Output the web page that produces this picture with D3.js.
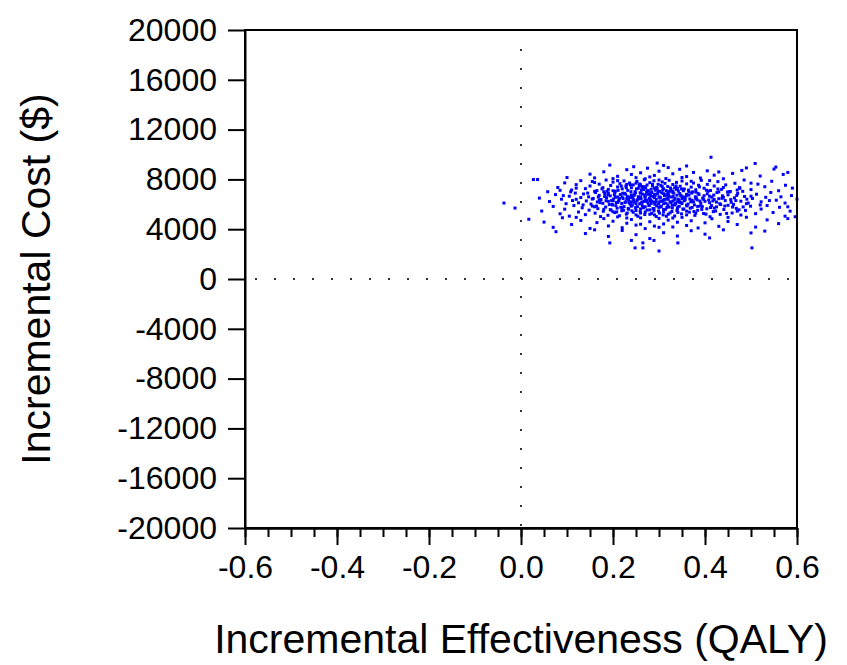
<!DOCTYPE html>
<html>
<head>
<meta charset="utf-8">
<script src="https://cdn.jsdelivr.net/npm/d3@7/dist/d3.min.js"></script>
<style>
body { margin: 0; background: #fff; }
</style>
</head>
<body>
<script>
// plane box in page pixels
const box = {left: 245, top: 30, right: 797, bottom: 528};
const font = "'Liberation Sans', Arial, sans-serif";

const x_ticks = [-0.6, -0.4, -0.2, 0.0, 0.2, 0.4, 0.6];
const y_ticks = [20000, 16000, 12000, 8000, 4000, 0, -4000, -8000, -12000, -16000, -20000];
const x_title = "Incremental Effectiveness (QALY)";
const y_title = "Incremental Cost ($)";

// simulated (effect, cost) pairs, read off the cloud
const sim_points = [
  [0.413,9780],[0.296,9310],[0.193,9150],[0.509,9280],[0.49,8920],[0.554,8990],[0.36,9080],[0.245,9020],[0.31,9120],
  [0.027,7990],[0.036,7990],[0.15,8420],[0.18,8610],[0.21,8250],[0.23,8780],[0.25,8140],[0.26,8530],[0.275,8900],
  [0.29,8320],[0.3,8660],[0.315,8070],[0.33,8450],[0.345,8810],[0.36,8230],[0.375,8560],[0.39,8110],[0.405,8690],
  [0.42,8340],[0.44,8050],[0.46,8480],[0.48,8720],[0.52,8270],[0.55,8830],[0.57,8400],[0.2,8060],[0.28,8200],
  [0.32,8950],[0.24,8400],[0.35,8150],[0.27,8050],[0.43,8600],[0.1,8150],[0.16,8120],[0.58,8560],
  [0.058,7010],[0.08,7350],[0.095,7720],[0.11,7150],[0.12,7580],[0.13,7900],[0.14,7260],[0.15,7470],[0.155,7830],
  [0.165,7100],[0.17,7620],[0.178,7340],[0.185,7950],[0.19,7200],[0.195,7510],[0.2,7780],[0.205,7050],[0.21,7390],
  [0.215,7660],[0.22,7240],[0.224,7880],[0.228,7470],[0.232,7120],[0.236,7710],[0.24,7330],[0.244,7560],[0.248,7020],
  [0.252,7840],[0.255,7280],[0.258,7630],[0.262,7150],[0.265,7420],[0.268,7970],[0.271,7310],[0.274,7550],[0.277,7080],
  [0.28,7740],[0.283,7210],[0.286,7480],[0.289,7890],[0.292,7130],[0.295,7360],[0.298,7610],[0.301,7040],[0.304,7520],
  [0.307,7800],[0.31,7250],[0.313,7680],[0.316,7100],[0.319,7430],[0.322,7930],[0.326,7190],[0.33,7590],[0.334,7320],
  [0.338,7760],[0.342,7060],[0.346,7450],[0.35,7870],[0.355,7230],[0.36,7640],[0.365,7000],[0.37,7380],[0.375,7710],
  [0.38,7170],[0.386,7530],[0.392,7920],[0.398,7290],[0.405,7600],[0.412,7110],[0.42,7470],[0.428,7820],[0.436,7200],
  [0.445,7560],[0.455,7030],[0.465,7690],[0.475,7340],[0.485,7950],[0.5,7180],[0.515,7620],[0.53,7410],[0.545,7850],
  [0.56,7090],[0.575,7530],[0.59,7300],[0.18,7010],[0.26,7560],[0.3,7950],[0.34,7270],[0.23,7600],[0.37,7850],
  [0.27,7400],[0.33,7050],[0.21,7900],[0.29,7300],[0.25,7700],[0.41,7900],[0.44,7350],[0.12,7300],[0.47,7150],
  [0.16,7750],[0.5,7700],[0.085,7120],
  [-0.037,6100],[0.04,6500],[0.062,6220],[0.075,6780],[0.088,6410],[0.098,6050],[0.105,6650],[0.112,6300],[0.118,6900],
  [0.125,6120],[0.13,6540],[0.136,6830],[0.142,6270],[0.147,6600],[0.152,6020],[0.157,6470],[0.162,6950],[0.166,6190],
  [0.17,6720],[0.174,6380],[0.178,6080],[0.182,6860],[0.186,6530],[0.19,6240],[0.194,6680],[0.198,6010],[0.201,6420],
  [0.204,6910],[0.207,6150],[0.21,6590],[0.213,6330],[0.216,6790],[0.219,6070],[0.222,6460],[0.225,6880],[0.228,6210],
  [0.231,6640],[0.234,6370],[0.237,6030],[0.24,6750],[0.243,6500],[0.246,6170],[0.249,6930],[0.252,6290],[0.255,6610],
  [0.258,6040],[0.261,6440],[0.264,6820],[0.267,6230],[0.27,6570],[0.273,6960],[0.276,6110],[0.279,6490],[0.282,6700],
  [0.285,6260],[0.288,6620],[0.291,6000],[0.294,6400],[0.297,6850],[0.3,6180],[0.303,6560],[0.306,6920],[0.309,6310],
  [0.312,6690],[0.315,6090],[0.318,6480],[0.321,6770],[0.324,6200],[0.327,6590],[0.33,6950],[0.333,6340],[0.336,6060],
  [0.339,6730],[0.342,6410],[0.345,6870],[0.348,6140],[0.351,6550],[0.355,6280],[0.359,6660],[0.363,6020],[0.367,6430],
  [0.371,6900],[0.375,6190],[0.379,6610],[0.383,6350],[0.387,6780],[0.391,6080],[0.395,6500],[0.4,6240],[0.405,6840],
  [0.41,6130],[0.415,6570],[0.42,6390],[0.426,6940],[0.432,6050],[0.438,6680],[0.444,6300],[0.45,6760],[0.457,6160],
  [0.464,6520],[0.471,6880],[0.478,6250],[0.486,6630],[0.494,6100],[0.503,6470],[0.512,6810],[0.522,6200],[0.532,6560],
  [0.543,6950],[0.555,6330],[0.574,6100],[0.588,6700],[0.6,6420],[0.2,6300],[0.22,6600],[0.24,6200],[0.26,6900],
  [0.28,6300],[0.3,6600],[0.32,6400],[0.34,6200],[0.36,6800],[0.38,6450],[0.25,6050],[0.27,6750],[0.29,6150],
  [0.31,6850],[0.33,6250],[0.35,6650],[0.23,6450],[0.19,6900],[0.17,6350],[0.41,6650],[0.43,6450],[0.27,6350],
  [0.29,6550],[0.31,6050],[0.26,6600],[0.28,6850],[0.24,6550],[0.32,6700],[0.35,6450],[0.21,6150],
  [-0.013,5700],[0.045,5460],[0.07,5830],[0.085,5240],[0.095,5610],[0.105,5050],[0.115,5900],[0.125,5380],[0.133,5720],
  [0.14,5170],[0.148,5530],[0.155,5860],[0.161,5290],[0.167,5650],[0.173,5010],[0.179,5440],[0.184,5780],[0.189,5120],
  [0.194,5570],[0.199,5940],[0.204,5330],[0.209,5690],[0.214,5080],[0.219,5480],[0.224,5820],[0.229,5210],[0.234,5600],
  [0.239,5950],[0.244,5360],[0.249,5730],[0.254,5040],[0.259,5420],[0.264,5880],[0.269,5180],[0.274,5540],[0.279,5910],
  [0.284,5270],[0.289,5660],[0.294,5020],[0.299,5460],[0.304,5800],[0.309,5150],[0.314,5590],[0.319,5960],[0.324,5310],
  [0.329,5700],[0.334,5060],[0.339,5500],[0.344,5840],[0.349,5230],[0.354,5620],[0.36,5930],[0.366,5370],[0.372,5750],
  [0.378,5110],[0.384,5520],[0.39,5870],[0.397,5260],[0.404,5640],[0.411,5000],[0.418,5410],[0.425,5790],[0.433,5190],
  [0.441,5580],[0.45,5920],[0.459,5300],[0.468,5680],[0.478,5140],[0.488,5510],[0.499,5850],[0.51,5250],[0.522,5620],
  [0.535,5900],[0.548,5340],[0.562,5760],[0.585,5450],[0.596,5000],[0.574,5050],[0.22,5700],[0.26,5300],[0.3,5750],
  [0.32,5200],[0.28,5550],[0.24,5850],[0.36,5450],[0.2,5400],[0.34,5650],[0.27,5800],[0.29,5150],[0.31,5400],
  [0.25,5500],[0.38,5300],[0.16,5800],[0.42,5700],[0.47,5450],
  [0.017,4800],[0.05,4570],[0.07,4150],[0.09,4920],[0.11,4380],[0.13,4700],[0.15,4060],[0.165,4530],[0.18,4850],
  [0.19,4260],[0.2,4640],[0.21,4990],[0.22,4120],[0.23,4480],[0.24,4780],[0.25,4330],[0.26,4910],[0.27,4050],
  [0.28,4600],[0.29,4250],[0.3,4870],[0.31,4420],[0.32,4730],[0.33,4180],[0.34,4560],[0.35,4950],[0.36,4300],
  [0.37,4680],[0.385,4100],[0.4,4510],[0.415,4840],[0.43,4230],[0.45,4620],[0.47,4380],[0.49,4960],[0.51,4170],
  [0.535,4750],[0.56,4450],[0.58,4850],[0.26,4400],[0.3,4150],[0.23,4900],[0.33,4900],[0.45,4950],[0.12,4950],
  [0.076,3800],[0.14,3650],[0.19,3420],[0.22,3900],[0.25,3560],[0.28,3250],[0.31,3720],[0.34,3450],[0.37,3880],
  [0.4,3600],[0.44,3950],[0.5,3700],[0.41,3300],[0.289,3100],[0.16,3950],[0.53,3850],[0.24,3100],
  [0.3,2250],[0.248,2500],[0.265,2500],[0.265,2900],[0.193,2900],[0.341,2900],[0.502,2500],
  [0.182,6620],[0.187,7050],[0.192,5980],[0.197,6310],[0.203,6770],[0.206,5890],[0.211,7120],[0.214,6480],[0.217,5760],
  [0.221,6890],[0.226,6140],[0.229,7330],[0.233,5670],[0.236,6580],[0.239,7010],[0.242,5940],[0.245,6360],[0.247,6810],
  [0.251,7240],[0.253,5810],[0.256,6470],[0.259,6930],[0.261,6090],[0.263,7380],[0.266,5720],[0.269,6650],[0.272,6240],
  [0.275,7090],[0.278,5900],[0.281,6420],[0.284,6960],[0.287,5660],[0.29,6810],[0.293,6190],[0.296,7270],[0.299,6030],
  [0.302,6500],[0.305,5850],[0.308,7150],[0.311,6370],[0.314,6770],[0.317,5740],[0.32,6580],[0.323,7040],[0.326,6130],
  [0.329,5930],[0.332,6890],[0.335,6450],[0.338,7200],[0.341,5790],[0.344,6280],[0.347,6710],[0.35,6060],[0.353,7090],
  [0.357,6390],[0.361,5870],[0.365,6740],[0.369,6200],[0.373,7000],[0.377,5950],[0.381,6530],[0.385,6880],[0.389,6260],
  [0.394,5820],[0.398,6690],[0.403,7130],[0.408,6350],[0.414,5900],[0.419,6740],[0.425,6180],[0.43,7000],[0.437,6480],
  [0.443,5860],[0.449,6990],[0.456,6380],[0.462,5990],[0.469,6710],[0.476,7280],[0.483,5790],[0.491,6410],
  [0.155,6420],[0.16,7040],[0.164,5860],[0.168,6590],[0.172,6130],[0.176,7240],[0.18,5600],[0.185,6290],[0.189,6760],
  [0.196,5530],[0.2,7090],[0.205,6560],[0.208,5390],[0.212,6260],[0.218,7460],[0.223,5520],[0.227,6820],[0.231,5300],
  [0.235,6140],[0.238,7560],[0.241,5480],[0.246,6720],[0.25,5150],[0.254,6400],[0.257,7490],[0.26,5630],[0.263,6160],
  [0.267,7180],[0.27,5380],[0.273,6330],[0.276,6800],[0.28,5200],[0.283,6070],[0.286,7610],[0.289,5480],[0.292,6730],
  [0.295,5870],[0.298,7050],[0.301,5290],[0.304,6230],[0.307,7420],[0.31,5590],[0.313,6390],[0.316,5040],[0.319,6910],
  [0.322,5780],[0.325,7310],[0.328,5420],[0.331,6620],[0.334,5950],[0.337,7470],[0.341,5350],[0.345,6150],[0.349,7230],
  [0.352,5610],[0.356,6550],[0.36,5150],[0.364,7140],[0.368,5690],[0.372,6320],[0.376,5420],[0.38,6980],[0.384,5830],
  [0.388,7400],[0.393,5590],[0.397,6400],[0.402,5210],[0.407,7060],[0.412,5740],[0.417,6270],[0.423,5460],[0.428,7230],
  [0.434,5980],[0.44,6560],[0.447,5270],[0.453,7000],[0.46,5780],[0.467,6300],[0.474,5560],[0.482,7040],[0.49,6050],
  [0.12,6400],[0.135,5950],[0.145,6900],[0.5,6650],[0.52,5950],[0.54,6300],[0.565,6600],[0.58,5800],[0.108,7000],
  [0.092,6700]
];

let svg = d3.select("body").append("svg")
        .attr("width", 847)
        .attr("height", 665);

let x = d3.scaleLinear()
          .domain([x_ticks[0], x_ticks[x_ticks.length - 1]])
          .range([box.left, box.right]);
let y = d3.scaleLinear()
          .domain([y_ticks[y_ticks.length - 1], y_ticks[0]])
          .range([box.bottom, box.top]);

// dotted quadrant lines through the origin
let dots = svg.append("g")
              .attr("stroke", "#333")
              .attr("stroke-width", 2)
              .attr("stroke-dasharray", "2,17");
dots.append("line")
    .attr("x1", x(0)).attr("x2", x(0))
    .attr("y1", box.top + 19).attr("y2", box.bottom);
dots.append("line")
    .attr("x1", box.left + 10).attr("x2", box.right)
    .attr("y1", y(0)).attr("y2", y(0));

svg.append("g")
   .selectAll("rect")
   .data(sim_points)
   .join("rect")
   .attr("x", d => x(d[0]) - 1.5)
   .attr("y", d => y(d[1]) - 1.5)
   .attr("width", 3)
   .attr("height", 3)
   .attr("fill", "#0000ff");

let y_axis = d3.axisLeft(y)
               .tickValues(y_ticks)
               .tickSize(17)
               .tickSizeOuter(0)
               .tickPadding(11)
               .tickFormat(d => String(d));
let x_axis = d3.axisBottom(x)
               .tickValues(x_ticks)
               .tickSize(17)
               .tickSizeOuter(0)
               .tickPadding(10)
               .tickFormat(d => d.toFixed(1));
let x_minor = d3.axisBottom(x)
                .ticks(24)
                .tickSize(9)
                .tickSizeOuter(0)
                .tickFormat("");

svg.append("g")
   .attr("transform", "translate(" + box.left + ",0)")
   .call(y_axis);
svg.append("g")
   .attr("transform", "translate(0," + box.bottom + ")")
   .call(x_minor);
svg.append("g")
   .attr("transform", "translate(0," + box.bottom + ")")
   .call(x_axis);

svg.selectAll(".tick line, .domain")
   .attr("stroke", "#000")
   .attr("stroke-width", 2);
svg.selectAll(".tick text")
   .attr("font-family", font)
   .attr("font-size", 32)
   .attr("fill", "#000");

svg.append("rect")
   .attr("x", box.left)
   .attr("y", box.top)
   .attr("width", box.right - box.left)
   .attr("height", box.bottom - box.top)
   .attr("fill", "none")
   .attr("stroke", "#000")
   .attr("stroke-width", 2);

svg.append("text")
   .attr("x", (box.left + box.right) / 2)
   .attr("y", 653)
   .attr("text-anchor", "middle")
   .attr("font-family", font)
   .attr("font-size", 41)
   .text(x_title);

svg.append("text")
   .attr("transform", "translate(50," + y(0) + ") rotate(-90)")
   .attr("text-anchor", "middle")
   .attr("font-family", font)
   .attr("font-size", 41)
   .text(y_title);
</script>
</body>
</html>
